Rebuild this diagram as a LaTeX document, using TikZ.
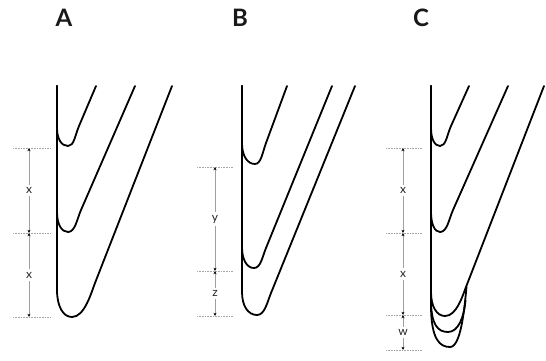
\documentclass[tikz,border=0pt]{standalone}
\usepackage{fontspec}
\setmainfont{Lato}
\usetikzlibrary{calc,arrows.meta}
\tikzset{
  curve/.style={line width=1.8pt,line cap=round,line join=round},
  guide/.style={gray!70,line width=0.6pt,densely dotted},
  dimline/.style={gray!75,line width=0.6pt,{Stealth[length=3.2pt,width=3pt,color=black]}-{Stealth[length=3.2pt,width=3pt,color=black]}},
  lab/.style={fill=white,inner sep=2.5pt,text=black!85,font=\fontsize{12}{12}\selectfont},
  title/.style={font=\fontsize{24}{24}\selectfont\bfseries,text=black!90}
}
% #1 x0, #2 yb, #3 xm, #4 ym, #5 xe, #6 ye, #7 xt
\newcommand\brc[7]{%
  \draw[curve] (#1,86) -- (#1,#2) .. controls (#1,{#2+0.6*(#4-#2)}) and ({#3-0.6*(#3-#1)},#4) .. (#3,#4)
   .. controls ({#3+0.55*(#5-#3)},#4) and ($(#5,#6)!-10pt!(#7,86)$) .. (#5,#6) -- (#7,86);}
% #1 x1, #2 x2, #3 y, #4 name
\newcommand\gline[4]{%
  \coordinate (#4a) at (#1,#3); \coordinate (#4b) at (#2,#3);
  \draw[guide] (#4a) -- (#4b);}
% #1 x, #2 y1, #3 y2, #4 label, #5 name
\newcommand\dimarr[5]{%
  \coordinate (#5t) at (#1,#2); \coordinate (#5b) at (#1,#3);
  \draw[dimline] (#5t) -- (#5b) node[midway,lab] (#5l) {#4};}
\begin{document}
\begin{tikzpicture}[x=1pt,y=-1pt]
\useasboundingbox (0,0) rectangle (546,360);
% titles
\node[title] (tA) at (64,18) {A};
\node[title] (tB) at (240,18) {B};
\node[title] (tC) at (421,18) {C};
% ---------- A ----------
\brc{57}{128}{68}{146}{79}{126}{96}
\brc{57}{212}{68}{232}{81}{210}{135}
\brc{57}{290}{72}{317}{95}{283}{172}
\gline{13}{50}{148}{ga1}
\gline{13}{50}{233}{ga2}
\gline{13}{50}{317}{ga3}
\dimarr{29}{148}{233}{x}{da1}
\dimarr{29}{233}{317}{x}{da2}
% ---------- B ----------
\brc{242}{143}{255}{164}{266}{143}{287}
\brc{242}{247}{254}{268}{266}{248}{332}
\brc{242}{292}{257}{315}{271}{293}{355}
\gline{197}{233}{167}{gb1}
\gline{197}{233}{271}{gb2}
\gline{197}{233}{316}{gb3}
\dimarr{215}{167}{271}{y}{db1}
\dimarr{215}{271}{316}{z}{db2}
% ---------- C ----------
\brc{431}{128}{440}{146}{451}{126}{469}
\brc{431}{212}{440}{232}{453}{210}{508}
\brc{431}{292}{445}{316}{466}{287}{544}
\draw[curve] (431,290) -- (431,300) .. controls (431,325) and (438,332) .. (448,332)
   .. controls (458,332) and (464,318) .. (465.5,300);
\draw[curve] (431,290) -- (431,305) .. controls (431,340) and (440,347) .. (450,347)
   .. controls (461,347) and (464.5,308) .. (466.5,287);
\gline{386}{422}{148}{gc1}
\gline{386}{422}{233}{gc2}
\gline{386}{422}{315}{gc3}
\gline{386}{422}{350}{gc4}
\dimarr{403}{148}{233}{x}{dc1}
\dimarr{403}{233}{315}{x}{dc2}
\dimarr{403}{315}{350}{w}{dc3}
\end{tikzpicture}
\end{document}
